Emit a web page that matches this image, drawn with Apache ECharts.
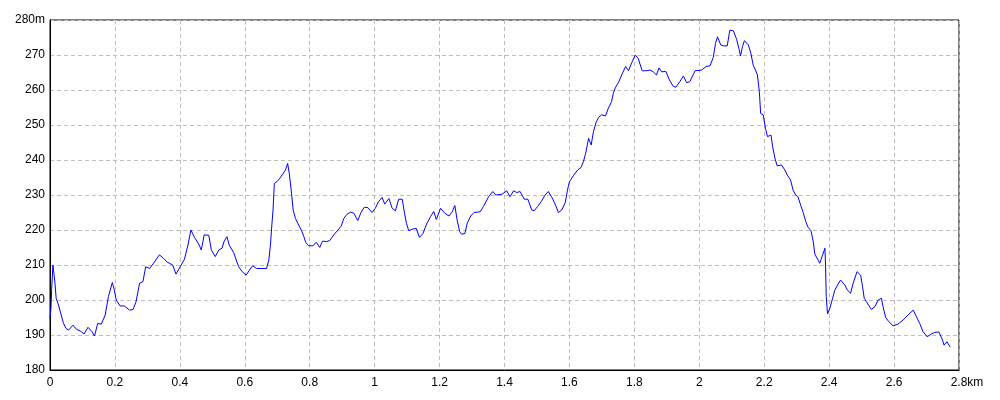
<!DOCTYPE html>
<html>
<head>
<meta charset="utf-8">
<script src="https://cdn.jsdelivr.net/npm/echarts@6/dist/echarts.min.js"></script>
<style>html,body{margin:0;padding:0;background:#fff}#c{width:1000px;height:400px}</style>
</head>
<body>
<div id="c"></div>
<script>
// distance (km)
const distKm = [
0,0.003,0.005,0.009,0.012,0.015,0.019,0.026,0.033,0.041,0.049,0.057,0.063,0.071,0.082,0.094,0.105,0.117,0.129,0.137,0.147,0.158,0.170,0.180,0.192,0.198,0.204,0.216,0.229,0.235,0.245,0.256,0.265,0.276,0.286,0.295,0.307,0.319,0.337,0.350,0.360,0.378,0.388,0.401,0.414,0.425,0.434,0.445,0.458,0.466,0.475,0.489,0.497,0.509,0.520,0.530,0.536,0.545,0.552,0.556,0.566,0.571,0.581,0.592,0.604,0.615,0.624,0.636,0.653,0.667,0.674,0.679,0.683,0.687,0.691,0.699,0.708,0.717,0.725,0.732,0.737,0.744,0.749,0.756,0.766,0.774,0.782,0.788,0.797,0.810,0.820,0.831,0.839,0.852,0.862,0.874,0.887,0.897,0.905,0.915,0.926,0.936,0.948,0.958,0.968,0.979,0.992,1.002,1.012,1.023,1.031,1.044,1.054,1.064,1.074,1.085,1.092,1.098,1.105,1.115,1.128,1.138,1.149,1.160,1.172,1.182,1.190,1.203,1.216,1.229,1.239,1.247,1.254,1.262,1.268,1.278,1.285,1.296,1.306,1.325,1.335,1.351,1.364,1.373,1.392,1.407,1.417,1.428,1.438,1.448,1.461,1.472,1.484,1.491,1.502,1.513,1.525,1.535,1.549,1.558,1.566,1.576,1.587,1.594,1.600,1.612,1.625,1.636,1.643,1.650,1.659,1.667,1.674,1.682,1.690,1.699,1.711,1.720,1.730,1.735,1.742,1.751,1.761,1.773,1.782,1.792,1.803,1.812,1.824,1.838,1.848,1.858,1.868,1.876,1.884,1.897,1.908,1.920,1.928,1.940,1.951,1.961,1.971,1.987,2.007,2.021,2.033,2.043,2.050,2.056,2.066,2.074,2.086,2.094,2.105,2.115,2.122,2.127,2.133,2.139,2.151,2.159,2.166,2.173,2.179,2.185,2.189,2.197,2.204,2.210,2.221,2.226,2.233,2.240,2.253,2.264,2.271,2.281,2.289,2.297,2.304,2.313,2.320,2.328,2.335,2.344,2.351,2.356,2.366,2.371,2.379,2.387,2.389,2.391,2.395,2.402,2.410,2.417,2.426,2.435,2.448,2.456,2.466,2.474,2.486,2.497,2.503,2.508,2.517,2.530,2.541,2.551,2.561,2.566,2.574,2.584,2.597,2.612,2.628,2.643,2.659,2.669,2.679,2.689,2.702,2.715,2.725,2.738,2.743,2.749,2.754,2.763,2.773
];
// elevation (m)
const elevM = [
194.8,197.6,202.7,210.0,207.6,205.2,200.5,198.6,196.2,193.5,191.9,191.4,191.1,192.8,191.6,191.1,190.3,192.2,191.0,189.7,193.3,193.1,195.7,201.0,205.0,202.9,200.0,198.3,198.3,198.6,197.1,197.3,199.5,204.8,205.2,209.5,209.0,210.5,212.9,211.9,210.9,210.0,207.4,209.5,211.6,215.7,220.0,217.9,216.0,214.3,218.6,218.5,214.3,212.4,214.3,214.8,216.7,218.1,215.7,216.2,213.5,213.3,209.5,208.1,207.1,208.6,209.8,209.0,209.0,209.0,211.4,215.7,221.0,225.7,233.3,233.8,234.8,236.0,237.1,239.0,236.2,230.5,225.7,223.3,221.4,220.0,218.1,216.4,215.5,215.5,216.5,215.0,216.8,216.7,217.0,218.6,220.0,221.1,223.3,224.5,225.1,224.8,222.7,225.0,226.5,226.4,225.0,226.2,228.1,229.3,227.4,229.0,226.2,225.5,228.8,228.8,224.8,221.9,219.8,220.2,220.5,217.9,219.0,221.7,223.8,225.3,223.0,226.2,224.8,224.0,225.2,227.0,222.9,219.5,218.8,219.0,221.9,224.0,225.0,225.2,226.7,229.5,231.0,230.0,230.2,231.2,229.5,231.2,230.7,231.0,228.8,228.8,225.7,225.5,226.7,228.1,230.0,231.0,228.8,226.9,225.0,225.7,227.8,231.4,233.8,235.5,237.1,237.9,239.5,241.9,246.2,244.3,248.1,250.7,252.2,252.9,252.6,254.8,256.7,259.0,260.8,262.1,264.3,266.7,265.5,267.8,270.0,269.0,265.5,265.5,265.7,265.2,264.3,266.3,265.2,265.3,262.9,261.0,260.8,262.4,264.0,262.1,262.4,265.5,265.7,266.7,266.9,269.3,273.3,275.2,272.9,272.6,272.6,277.1,276.9,274.5,271.9,269.7,272.4,274.1,272.9,270.5,267.1,265.7,264.3,259.5,253.3,252.9,249.0,246.7,247.1,243.8,240.5,238.3,238.6,237.1,235.7,234.3,231.4,230.0,229.5,226.9,225.0,222.4,220.8,219.8,216.7,213.1,211.4,210.5,212.6,214.8,209.7,201.0,196.0,197.6,200.2,202.7,204.3,205.7,204.3,202.9,201.9,204.8,208.1,207.1,203.8,200.5,199.2,197.3,198.1,200.0,200.5,198.1,195.0,193.8,192.6,193.1,194.3,195.7,197.1,195.2,193.3,191.0,189.5,190.3,190.7,190.9,190.7,188.6,187.1,188.1,186.5
];
const xMin = 0, xMax = 2.8, xStep = 0.2;
const yMin = 180, yMax = 280, yStep = 10;

const chart = echarts.init(document.getElementById('c'), null, {renderer: 'canvas'});
const pts = distKm.map((d, i) => [d, elevM[i]]);
const fnt = {fontFamily: 'Liberation Sans, Arial, sans-serif', fontSize: 12, color: '#000'};
chart.setOption({
  animation: false,
  backgroundColor: '#fff',
  grid: {left: 50, right: 41, top: 20, bottom: 30, show: true, borderColor: '#000', borderWidth: 1, backgroundColor: 'transparent'},
  xAxis: {
    type: 'value', min: xMin, max: xMax, interval: xStep,
    axisLine: {show: true, onZero: false, lineStyle: {color: '#000', width: 1}},
    axisTick: {show: false},
    splitLine: {show: true, lineStyle: {color: '#bdbdbd', type: [4, 3], width: 1}},
    axisLabel: Object.assign({margin: 7, showMinLabel: true, showMaxLabel: true,
      formatter: v => { const r = Math.round(v * 10) / 10; return r === xMax ? '{u|' + r + 'km}' : String(r); },
      rich: {u: Object.assign({padding: [0, 0, 0, 16]}, fnt)}}, fnt)
  },
  yAxis: {
    type: 'value', min: yMin, max: yMax, interval: yStep,
    axisLine: {show: true, lineStyle: {color: '#000', width: 1}},
    axisTick: {show: false},
    splitLine: {show: true, lineStyle: {color: '#bdbdbd', type: [4, 3], width: 1}},
    axisLabel: Object.assign({margin: 5, showMinLabel: true, showMaxLabel: true,
      formatter: v => v === yMax ? v + 'm' : String(v)}, fnt)
  },
  series: [{
    type: 'line', data: pts, showSymbol: false, symbol: 'none', smooth: false,
    lineStyle: {color: '#0000ff', width: 1}, z: 3
  }]
});
</script>
</body>
</html>
